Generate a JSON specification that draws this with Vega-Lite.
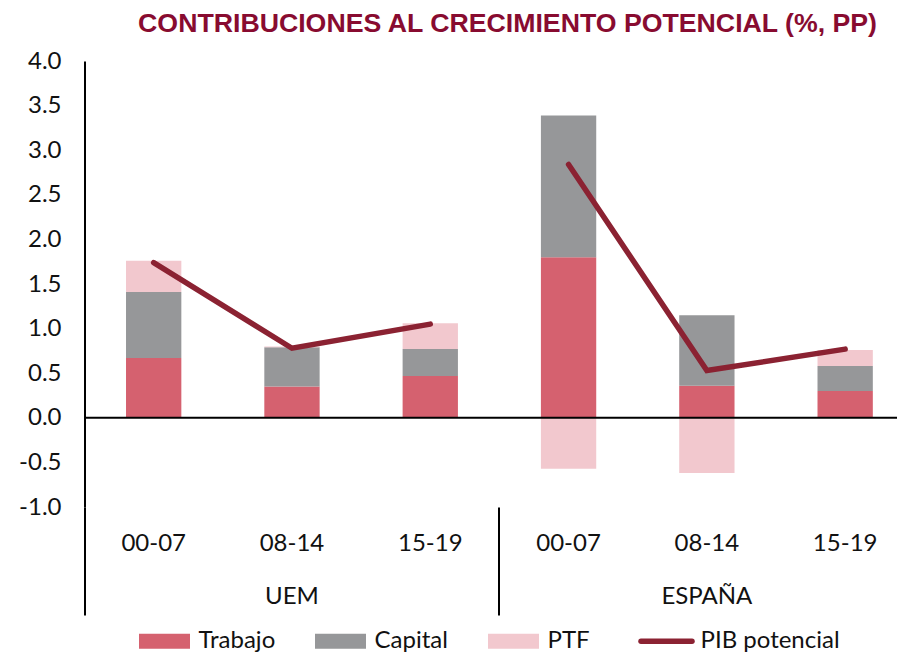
{
  "$schema": "https://vega.github.io/schema/vega-lite/v6.json",
  "autosize": {"type": "none"},
  "width": 812.5,
  "height": 446,
  "padding": {"left": 84.5, "top": 61, "right": 0, "bottom": 147},
  "background": "white",
  "config": {"view": {"stroke": null}},
  "title": {
    "text": "CONTRIBUCIONES AL CRECIMIENTO POTENCIAL (%, PP)",
    "anchor": "end",
    "frame": "group",
    "dx": -20,
    "offset": -10,
    "baseline": "alphabetic",
    "font": "Liberation Sans",
    "fontSize": 26.7,
    "fontWeight": "bold",
    "color": "#880b30"
  },
  "datasets": {
    "barras": [
      {"cat": "UEM|00-07", "serie": "Trabajo", "orden": 1, "valor": 0.67},
      {"cat": "UEM|00-07", "serie": "Capital", "orden": 2, "valor": 0.74},
      {"cat": "UEM|00-07", "serie": "PTF", "orden": 3, "valor": 0.35},
      {"cat": "UEM|08-14", "serie": "Trabajo", "orden": 1, "valor": 0.35},
      {"cat": "UEM|08-14", "serie": "Capital", "orden": 2, "valor": 0.44},
      {"cat": "UEM|08-14", "serie": "PTF", "orden": 3, "valor": 0.01},
      {"cat": "UEM|15-19", "serie": "Trabajo", "orden": 1, "valor": 0.47},
      {"cat": "UEM|15-19", "serie": "Capital", "orden": 2, "valor": 0.30},
      {"cat": "UEM|15-19", "serie": "PTF", "orden": 3, "valor": 0.29},
      {"cat": "ESPAÑA|00-07", "serie": "Trabajo", "orden": 1, "valor": 1.80},
      {"cat": "ESPAÑA|00-07", "serie": "Capital", "orden": 2, "valor": 1.59},
      {"cat": "ESPAÑA|00-07", "serie": "PTF", "orden": 3, "valor": -0.57},
      {"cat": "ESPAÑA|08-14", "serie": "Trabajo", "orden": 1, "valor": 0.36},
      {"cat": "ESPAÑA|08-14", "serie": "Capital", "orden": 2, "valor": 0.79},
      {"cat": "ESPAÑA|08-14", "serie": "PTF", "orden": 3, "valor": -0.62},
      {"cat": "ESPAÑA|15-19", "serie": "Trabajo", "orden": 1, "valor": 0.30},
      {"cat": "ESPAÑA|15-19", "serie": "Capital", "orden": 2, "valor": 0.28},
      {"cat": "ESPAÑA|15-19", "serie": "PTF", "orden": 3, "valor": 0.18}
    ],
    "pib": [
      {"grupo": "UEM", "cat": "UEM|00-07", "valor": 1.74},
      {"grupo": "UEM", "cat": "UEM|08-14", "valor": 0.78},
      {"grupo": "UEM", "cat": "UEM|15-19", "valor": 1.05},
      {"grupo": "ESPAÑA", "cat": "ESPAÑA|00-07", "valor": 2.84},
      {"grupo": "ESPAÑA", "cat": "ESPAÑA|08-14", "valor": 0.53},
      {"grupo": "ESPAÑA", "cat": "ESPAÑA|15-19", "valor": 0.77}
    ],
    "cero": [{"valor": 0}]
  },
  "layer": [
    {
      "data": {"name": "barras"},
      "mark": {"type": "bar"},
      "encoding": {
        "x": {
          "field": "cat",
          "type": "nominal",
          "sort": null,
          "title": null,
          "scale": {
            "domain": ["UEM|00-07", "UEM|08-14", "UEM|15-19", "ESPAÑA|00-07", "ESPAÑA|08-14", "ESPAÑA|15-19"],
            "paddingInner": 0.6,
            "paddingOuter": 0.2375,
            "align": 0.632
          },
          "axis": {
            "orient": "bottom",
            "domain": false,
            "labelAngle": 0,
            "labelFont": "Lato",
            "labelFontSize": 24,
            "labelColor": "#111111",
            "labelBaseline": "top",
            "labelLineHeight": 53.3,
            "labelPadding": -83.7,
            "labelExpr": "indexof(datum.value, '08-14') >= 0 ? [split(datum.value, '|')[1], split(datum.value, '|')[0]] : split(datum.value, '|')[1]",
            "ticks": true,
            "bandPosition": -0.75,
            "tickSize": 108,
            "tickWidth": 2,
            "tickColor": "#000000",
            "tickOpacity": {"condition": {"test": "datum.value == 'UEM|00-07' || datum.value == 'ESPAÑA|00-07'", "value": 1}, "value": 0},
            "grid": false
          }
        },
        "y": {
          "field": "valor",
          "type": "quantitative",
          "stack": "zero",
          "title": null,
          "scale": {"domain": [-1, 4], "nice": false},
          "axis": {
            "values": [-1, -0.5, 0, 0.5, 1, 1.5, 2, 2.5, 3, 3.5, 4],
            "labelExpr": "datum.value < 0 ? '-' + format(-datum.value, '.1f') : format(datum.value, '.1f')",
            "labelFont": "Lato",
            "labelFontSize": 24,
            "labelColor": "#111111",
            "labelPadding": 23.5,
            "ticks": false,
            "grid": false,
            "domain": true,
            "domainColor": "#000000",
            "domainWidth": 2
          }
        },
        "color": {
          "field": "serie",
          "type": "nominal",
          "scale": {
            "domain": ["Trabajo", "Capital", "PTF", "PIB potencial"],
            "range": ["#d5616f", "#969799", "#f2c8ce", "#8b2232"]
          },
          "legend": {
            "title": null,
            "orient": "none",
            "legendX": 68,
            "legendY": 568.2,
            "direction": "horizontal",
            "labelFont": "Lato",
            "labelFontSize": 24,
            "labelColor": "#111111",
            "labelOffset": 22,
            "columnPadding": 39,
            "symbolSize": 2601,
            "encode": {
              "symbols": {
                "update": {
                  "shape": {"signal": "datum.value === 'PIB potencial' ? 'stroke' : 'M-1,-0.294H1V0.294H-1Z'"},
                  "fill": {"scale": "color", "field": "value"},
                  "stroke": {"scale": "color", "field": "value"},
                  "strokeWidth": {"signal": "datum.value === 'PIB potencial' ? 5.5 : 0"},
                  "strokeCap": {"value": "round"},
                  "opacity": {"value": 1},
                  "fillOpacity": {"value": 1},
                  "strokeOpacity": {"value": 1}
                }
              }
            }
          }
        },
        "order": {"field": "orden", "type": "quantitative"}
      }
    },
    {
      "data": {"name": "cero"},
      "mark": {"type": "rule", "color": "#000000", "strokeWidth": 2},
      "encoding": {"y": {"field": "valor", "type": "quantitative"}}
    },
    {
      "data": {"name": "pib"},
      "mark": {"type": "line", "strokeWidth": 5.5, "strokeCap": "round", "strokeJoin": "miter"},
      "encoding": {
        "x": {"field": "cat", "type": "nominal", "sort": null},
        "y": {"field": "valor", "type": "quantitative"},
        "color": {"datum": "PIB potencial"},
        "detail": {"field": "grupo"}
      }
    }
  ]
}
